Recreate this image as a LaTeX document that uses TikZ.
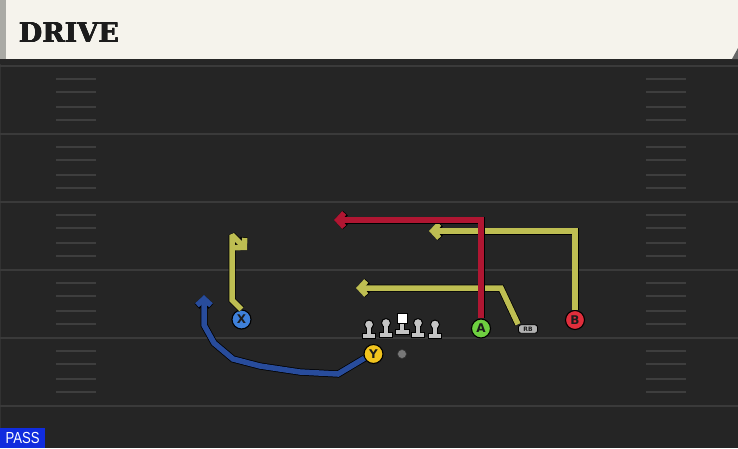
\documentclass[tikz,border=0pt]{standalone}
\usepackage{fontspec}
\setmainfont{DejaVu Sans}
\newfontfamily\titlefont{DejaVu Serif}
\newfontfamily\passfont{Liberation Sans}
\usetikzlibrary{arrows.meta,shapes.misc}
\definecolor{cream}{RGB}{245,243,236}
\definecolor{stripgray}{RGB}{170,170,165}
\definecolor{fieldbg}{RGB}{37,37,37}
\definecolor{fieldline}{RGB}{58,58,58}
\definecolor{edgeline}{RGB}{50,50,50}
\definecolor{hashcol}{RGB}{62,62,62}
\definecolor{routeyel}{RGB}{190,190,82}
\definecolor{routered}{RGB}{176,22,50}
\definecolor{routeblue}{RGB}{40,76,156}
\definecolor{xblue}{RGB}{62,128,218}
\definecolor{yyel}{RGB}{242,196,30}
\definecolor{agreen}{RGB}{110,208,64}
\definecolor{bred}{RGB}{224,46,60}
\definecolor{olgray}{RGB}{196,196,196}
\definecolor{rbgray}{RGB}{178,178,178}
\definecolor{ballgray}{RGB}{120,120,120}
\definecolor{passblue}{RGB}{16,44,222}
\definecolor{darktext}{RGB}{28,28,28}
\tikzset{
  player/.style={circle, minimum size=19pt, inner sep=0pt, draw=black, line width=1.1pt,
    font=\bfseries\fontsize{12}{12}\selectfont, text=darktext},
  route/.style={line width=5.5pt, miter limit=2, -{Straight Barb[length=6.5pt,width=14pt]},
    preaction={draw=black, line width=7pt, miter limit=2}},
  olpart/.style={fill=olgray, draw=black, line width=1pt},
  hashmark/.style={draw=hashcol, line width=1.3pt},
  yardline/.style={draw=fieldline, line width=1.8pt}
}
\begin{document}
\begin{tikzpicture}[x=1pt,y=-1pt]
\useasboundingbox (0,0) rectangle (738,448);
% field
\fill[fieldbg] (0,0) rectangle (738,448);
\fill[black!85] (0,59) rectangle (738,64);
\draw[edgeline, line width=0.8pt] (0.5,64) -- (0.5,448);
\foreach \yy in {66,134,202,270,338,406} {
  \draw[yardline] (0,\yy) -- (738,\yy);
}
\foreach \b in {0,68,136,204,272} {
  \foreach \h in {79,92,107,120} {
    \draw[hashmark] (56,\h+\b) -- (96,\h+\b);
    \draw[hashmark] (646,\h+\b) -- (686,\h+\b);
  }
}
% title bar
\fill[cream] (0,0) rectangle (738,59);
\fill[stripgray] (0,0) rectangle (5.5,59);
\fill[black!60] (732,59) -- (738,59) -- (738,48) -- cycle;
\foreach \dx/\dy in {0/0,0.4/0,0/0.4,0.4/0.4} {
  \node[anchor=west, inner sep=0pt, text=darktext, font=\titlefont\bfseries\fontsize{27}{27}\selectfont] at (18.5+\dx,32.5+\dy) {DRIVE};
}
\node[anchor=west, inner sep=0pt, text=darktext, font=\titlefont\bfseries\fontsize{27}{27}\selectfont] (title) at (18.7,32.7) {DRIVE};
% pass label
\node[fill=passblue, text=white, anchor=south west, minimum width=45pt, minimum height=20pt, inner sep=0pt,
  font=\passfont\fontsize{16}{16}\selectfont] (pass) at (0,448) {\scalebox{0.82}[1]{PASS}};
% offensive line
\foreach \xx/\by in {369/338.5,386/337,418/337,435/338.5} {
  \filldraw[olpart] (\xx-6.5,\by-5) rectangle (\xx+6.5,\by);
  \filldraw[olpart] (\xx-2.8,\by-14) rectangle (\xx+2.8,\by-5);
  \filldraw[olpart] (\xx,\by-14) circle (4.5pt);
  \fill[olgray] (\xx-2.3,\by-14) rectangle (\xx+2.3,\by-4.5);
}
\filldraw[olpart] (395,329) rectangle (409,334);
\filldraw[olpart] (399.2,322) rectangle (404.8,329);
\fill[olgray] (399.7,321) rectangle (404.3,329.5);
\filldraw[fill=white, draw=black, line width=1pt] (397,313) rectangle (407,323);
% ball
\node[circle, fill=ballgray, draw=black!80, line width=0.6pt, minimum size=9pt, inner sep=0pt] (ball) at (402,354) {};
% players
\node[player, fill=xblue] (X) at (241.5,319.5) {X};
\node[player, fill=yyel] (Y) at (373.5,354) {Y};
\node[player, fill=agreen] (A) at (481,328.5) {A};
\node[player, fill=bred] (B) at (575,320) {B};
\node[rounded corners=2.5pt, fill=rbgray, draw=black, line width=0.9pt,
  minimum width=19pt, minimum height=8.5pt, inner sep=0pt, text=darktext,
  font=\bfseries\fontsize{6}{6}\selectfont] (RB) at (528,329) {RB};
% route points
\coordinate (x1) at (232,300);
\coordinate (x2) at (232,235);
\coordinate (xe) at (247,250);
\coordinate (y1) at (338,374);
\coordinate (y2) at (300,372);
\coordinate (y3) at (260,366);
\coordinate (y4) at (233,359);
\coordinate (y5) at (214,343);
\coordinate (y6) at (204,325);
\coordinate (ye) at (204,295);
\coordinate (a1) at (481,220);
\coordinate (ae) at (334,220);
\coordinate (b1) at (575,231);
\coordinate (be) at (429,231);
\coordinate (r1) at (501,288);
\coordinate (re) at (356,288);
% routes
\draw[route, draw=routeyel] (RB.north west) -- (r1) -- (re);
\draw[route, draw=routeyel] (B.north) -- (b1) -- (be);
\draw[route, draw=routered] (A.north) -- (a1) -- (ae);
\draw[route, draw=routeyel] (X.north) -- (x1) -- (x2) -- (xe);
\draw[route, draw=routeblue] (Y.205) -- (y1) -- (y2) -- (y3) -- (y4) -- (y5) -- (y6) -- (ye);
\end{tikzpicture}
\end{document}
